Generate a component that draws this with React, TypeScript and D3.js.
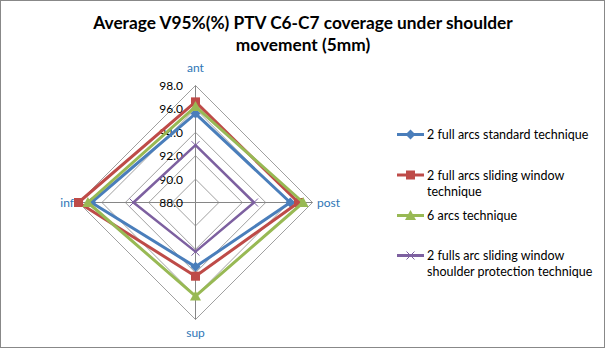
import React from "react";
import * as d3 from "d3";

const axesLabels = ["ant", "post", "sup", "inf"];
const seriesNames = [
  "2 full arcs standard technique",
  "2 full arcs sliding window technique",
  "6 arcs technique",
  "2 fulls arc sliding window shoulder protection technique",
];
const legendLines = [
  ["2 full arcs standard technique"],
  ["2 full arcs sliding window", "technique"],
  ["6 arcs technique"],
  ["2 fulls arc sliding window", "shoulder protection technique"],
];
const blueVals = [95.6, 96.1, 93.5, 96.9];
const redVals = [96.6, 96.8, 94.3, 98.0];
const greenVals = [96.2, 97.2, 96.0, 97.2];
const purpleVals = [92.9, 93.0, 92.2, 93.3];
const tickValues = [88, 90, 92, 94, 96, 98];
const colors = ["#4A7EBB", "#BE4B48", "#98B954", "#7D60A0"];
const markers = ["diamond", "square", "triangle", "x"];

const W = 605, H = 348;
const cx = 195.5, cy = 202.5, R = 117;
const font = "Lato, 'Open Sans', sans-serif";

function Marker({ type, x, y, color }: { type: string; x: number; y: number; color: string }) {
  if (type === "diamond") {
    const s = 5;
    return <path d={`M${x},${y - s}L${x + s},${y}L${x},${y + s}L${x - s},${y}Z`} fill={color} />;
  }
  if (type === "square") {
    const s = 4.5;
    return <rect x={x - s} y={y - s} width={2 * s} height={2 * s} fill={color} />;
  }
  if (type === "triangle") {
    const s = 5.5;
    return <path d={`M${x},${y - s}L${x + s},${y + s * 0.8}L${x - s},${y + s * 0.8}Z`} fill={color} />;
  }
  const s = 4;
  return (
    <path
      d={`M${x - s},${y - s}L${x + s},${y + s}M${x - s},${y + s}L${x + s},${y - s}`}
      stroke={color}
      strokeWidth={1}
      fill="none"
    />
  );
}

export default function App() {
  const r = d3.scaleLinear().domain([88, 98]).range([0, R]);
  const angles = axesLabels.map((_, i) => (i * Math.PI * 2) / axesLabels.length);
  const pt = (i: number, v: number): [number, number] => [
    cx + r(v) * Math.sin(angles[i]),
    cy - r(v) * Math.cos(angles[i]),
  ];
  const line = d3.line().curve(d3.curveLinearClosed);
  const allSeries = [blueVals, redVals, greenVals, purpleVals];

  return (
    <svg
      width={W}
      height={H}
      style={{ position: "absolute", left: 0, top: 0, background: "#fff" }}
      fontFamily={font}
    >
      <rect x={0.5} y={0.5} width={W - 1} height={H - 1} fill="#fff" stroke="#888" />
      <text x={303} y={29} textAnchor="middle" fontWeight="bold" fontSize={17.3} fill="#000">
        Average V95%(%) PTV C6-C7 coverage under shoulder
      </text>
      <text x={303} y={51} textAnchor="middle" fontWeight="bold" fontSize={17.3} fill="#000">
        movement (5mm)
      </text>
      {tickValues.slice(1).map((t) => (
        <path
          key={t}
          d={line(axesLabels.map((_, i) => pt(i, t))) || ""}
          fill="none"
          stroke="#A0A0A0"
          strokeWidth={1}
        />
      ))}
      {axesLabels.map((_, i) => {
        const [x, y] = pt(i, 98);
        return <line key={i} x1={cx} y1={cy} x2={x} y2={y} stroke="#868686" strokeWidth={1} />;
      })}
      {tickValues.map((t) => (
        <text key={t} x={183} y={cy - r(t) + 4.5} textAnchor="end" fontSize={12} fill="#000">
          {t.toFixed(1)}
        </text>
      ))}
      <text x={cx} y={72} textAnchor="middle" fontSize={12} fill="#2E75B6">ant</text>
      <text x={317} y={207} textAnchor="start" fontSize={12} fill="#2E75B6">post</text>
      <text x={cx} y={337} textAnchor="middle" fontSize={12} fill="#2E75B6">sup</text>
      <text x={74} y={207} textAnchor="end" fontSize={12} fill="#2E75B6">inf</text>
      {allSeries.map((vals, si) => (
        <g key={si}>
          <path
            d={line(vals.map((v, i) => pt(i, v))) || ""}
            fill="none"
            stroke={colors[si]}
            strokeWidth={si === 3 ? 2.5 : 3}
            strokeLinejoin="round"
          />
          {vals.map((v, i) => {
            const [x, y] = pt(i, v);
            return <Marker key={i} type={markers[si]} x={x} y={y} color={colors[si]} />;
          })}
        </g>
      ))}
      {seriesNames.map((name, si) => {
        const ys = [134.5, 175, 215.5, 255.5];
        const y = ys[si];
        return (
          <g key={name}>
            <line x1={397} x2={424} y1={y} y2={y} stroke={colors[si]} strokeWidth={3} />
            <Marker type={markers[si]} x={410.5} y={y} color={colors[si]} />
            {legendLines[si].map((l, li) => (
              <text key={li} x={427} y={y + 4.5 + li * 16} fontSize={12.5} fill="#000">
                {l}
              </text>
            ))}
          </g>
        );
      })}
    </svg>
  );
}
